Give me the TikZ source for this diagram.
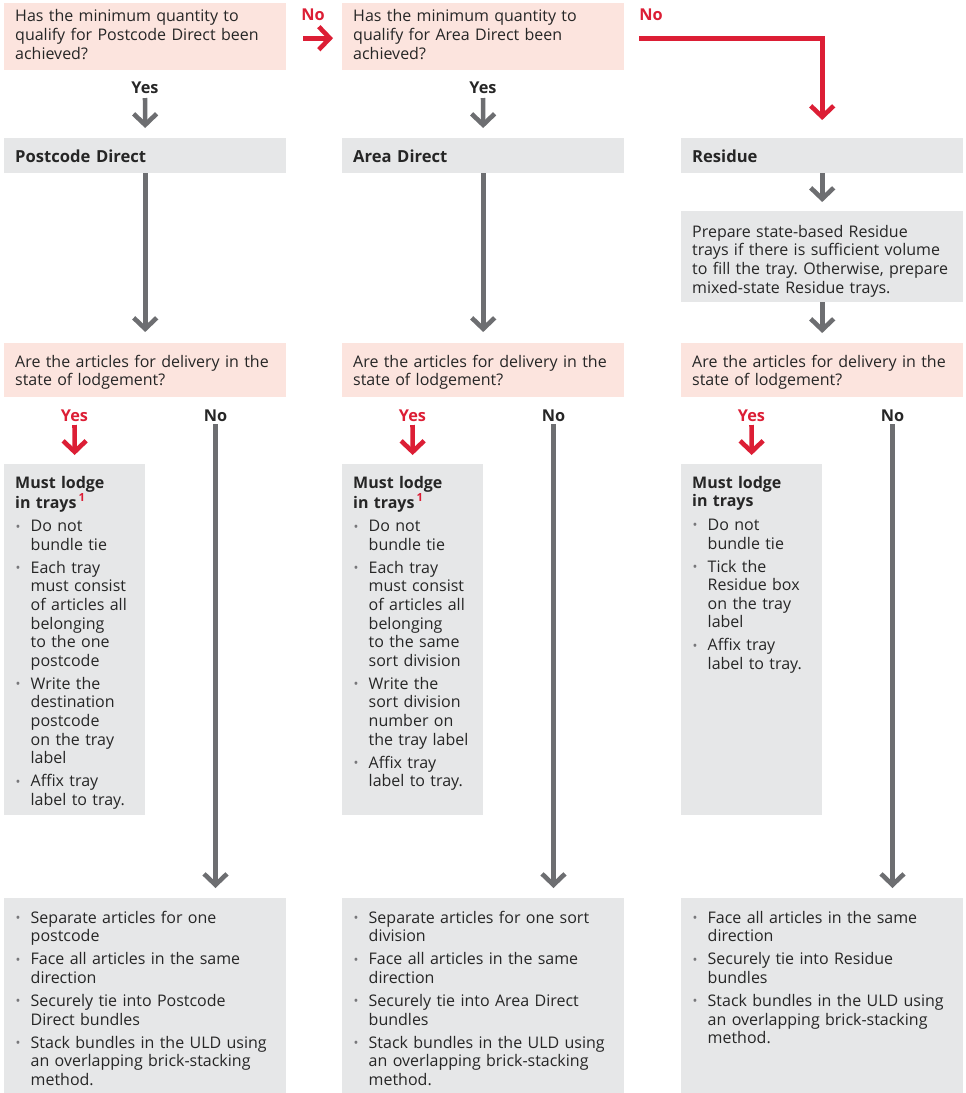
\documentclass[tikz,border=0pt]{standalone}
\usepackage{fontspec}
\setmainfont{Open Sans}
\usetikzlibrary{arrows.meta,calc}
\definecolor{pinkbg}{HTML}{FCE4DE}
\definecolor{graybg}{HTML}{E6E7E8}
\definecolor{arrgray}{HTML}{6D6E71}
\definecolor{apred}{HTML}{DC1E35}
\definecolor{txtc}{HTML}{262626}
\definecolor{dotgray}{HTML}{77777A}
\frenchspacing
\newcommand\bl{\makebox[15.5pt][l]{\hspace{0.5pt}\raisebox{0.5pt}{\textcolor{dotgray}{\fontsize{13}{13}\selectfont •}}}}
\newcommand\hd[1]{\multicolumn{2}{@{}l@{}}{\bfseries #1}}
\newcommand\fnmark{\textsuperscript{\hspace{2pt}\textcolor{apred}{1}}}
\begin{document}
\begin{tikzpicture}[x=1pt,y=-1pt,
  box/.style={anchor=north west, inner xsep=11pt, inner ysep=0pt, align=left,
    font=\fontsize{16}{18.6}\selectfont, text=txtc},
  pinkbox/.style={box, fill=pinkbg},
  graybox/.style={box, fill=graybg},
  wide/.style={text width=260pt},
  narrow/.style={text width=119pt},
  ttl/.style={font=\bfseries\fontsize{16.6}{18.6}\selectfont},
  lab/.style={inner sep=0pt, font=\bfseries\fontsize{16.3}{18.6}\selectfont, text=txtc},
  redlab/.style={lab, text=apred},
  garr/.style={draw=arrgray, line width=4.6pt, -{Straight Barb[length=11pt,width=23pt]}},
  rarr/.style={draw=apred, line width=4.6pt, -{Straight Barb[length=11pt,width=23pt]}}
]
\useasboundingbox (0,0) rectangle (966,1093);

% ---------- top questions ----------
\node[pinkbox, wide, text height=18.7pt, text depth=48.3pt] (qa1) at (4,3)
  {\begin{tabular}[t]{@{}l@{}}Has the minimum quantity to\\ qualify for Postcode Direct been\\ achieved?\end{tabular}};
\node[pinkbox, wide, text height=18.7pt, text depth=48.3pt] (qa2) at (342,3)
  {\begin{tabular}[t]{@{}l@{}}Has the minimum quantity to\\ qualify for Area Direct been\\ achieved?\end{tabular}};

% ---------- titles ----------
\node[graybox, ttl, wide, text height=23.8pt, text depth=11.2pt] (ta1) at (4,138) {Postcode Direct};
\node[graybox, ttl, wide, text height=23.8pt, text depth=11.2pt] (ta2) at (342,138) {Area Direct};
\node[graybox, ttl, wide, text height=23.8pt, text depth=11.2pt] (ta3) at (681,138) {Residue};

\node[graybox, wide, text height=26pt, text depth=65pt] (prep) at (681,211)
  {\begin{tabular}[t]{@{}l@{}}Prepare state-based Residue\\ trays if there is sufficient volume\\ to fill the tray. Otherwise, prepare\\ mixed-state Residue trays.\end{tabular}};

% ---------- second questions ----------
\node[pinkbox, wide, text height=24pt, text depth=30pt] (qb1) at (4,343)
  {\begin{tabular}[t]{@{}l@{}}Are the articles for delivery in the\\ state of lodgement?\end{tabular}};
\node[pinkbox, wide, text height=24pt, text depth=30pt] (qb2) at (342,343)
  {\begin{tabular}[t]{@{}l@{}}Are the articles for delivery in the\\ state of lodgement?\end{tabular}};
\node[pinkbox, wide, text height=24pt, text depth=30pt] (qb3) at (681,343)
  {\begin{tabular}[t]{@{}l@{}}Are the articles for delivery in the\\ state of lodgement?\end{tabular}};

% ---------- tray boxes ----------
\node[graybox, narrow, text height=24pt, text depth=327pt] (tr1) at (4,464)
  {\begin{tabular}[t]{@{}l@{}l@{}}
  \hd{Must lodge}\\ \hd{in trays\fnmark}\\[5pt]
  \bl & Do not\\ & bundle tie\\[4.4pt]
  \bl & Each tray\\ & must consist\\ & of articles all\\ & belonging\\ & to the one\\ & postcode\\[4.4pt]
  \bl & Write the\\ & destination\\ & postcode\\ & on the tray\\ & label\\[4.4pt]
  \bl & Affix tray\\ & label to tray.
  \end{tabular}};
\node[graybox, narrow, text height=24pt, text depth=327pt] (tr2) at (342,464)
  {\begin{tabular}[t]{@{}l@{}l@{}}
  \hd{Must lodge}\\ \hd{in trays\fnmark}\\[5pt]
  \bl & Do not\\ & bundle tie\\[4.4pt]
  \bl & Each tray\\ & must consist\\ & of articles all\\ & belonging\\ & to the same\\ & sort division\\[4.4pt]
  \bl & Write the\\ & sort division\\ & number on\\ & the tray label\\[4.4pt]
  \bl & Affix tray\\ & label to tray.
  \end{tabular}};
\node[graybox, narrow, text height=24pt, text depth=327pt] (tr3) at (681,464)
  {\begin{tabular}[t]{@{}l@{}l@{}}
  \hd{Must lodge}\\ \hd{in trays}\\[5pt]
  \bl & Do not\\ & bundle tie\\[4.4pt]
  \bl & Tick the\\ & Residue box\\ & on the tray\\ & label\\[4.4pt]
  \bl & Affix tray\\ & label to tray.
  \end{tabular}};

% ---------- bottom boxes ----------
\node[graybox, wide, text height=25pt, text depth=170pt] (bt1) at (4,898)
  {\begin{tabular}[t]{@{}l@{}l@{}}
  \bl & Separate articles for one\\ & postcode\\[4.4pt]
  \bl & Face all articles in the same\\ & direction\\[4.4pt]
  \bl & Securely tie into Postcode\\ & Direct bundles\\[4.4pt]
  \bl & Stack bundles in the ULD using\\ & an overlapping brick-stacking\\ & method.
  \end{tabular}};
\node[graybox, wide, text height=25pt, text depth=170pt] (bt2) at (342,898)
  {\begin{tabular}[t]{@{}l@{}l@{}}
  \bl & Separate articles for one sort\\ & division\\[4.4pt]
  \bl & Face all articles in the same\\ & direction\\[4.4pt]
  \bl & Securely tie into Area Direct\\ & bundles\\[4.4pt]
  \bl & Stack bundles in the ULD using\\ & an overlapping brick-stacking\\ & method.
  \end{tabular}};
\node[graybox, wide, text height=25pt, text depth=170pt] (bt3) at (681,898)
  {\begin{tabular}[t]{@{}l@{}l@{}}
  \bl & Face all articles in the same\\ & direction\\[4.4pt]
  \bl & Securely tie into Residue\\ & bundles\\[4.4pt]
  \bl & Stack bundles in the ULD using\\ & an overlapping brick-stacking\\ & method.
  \end{tabular}};

% ---------- labels ----------
\node[redlab] (noA) at (313,15) {No};
\node[redlab] (noB) at (651,15) {No};
\node[lab] (yes1a) at (145,88) {Yes};
\node[lab] (yes1b) at (483,88) {Yes};
\node[redlab] (yes2a) at (74.5,416) {Yes};
\node[redlab] (yes2b) at (412.5,416) {Yes};
\node[redlab] (yes2c) at (751.5,416) {Yes};
\node[lab] (no2a) at (215.5,416) {No};
\node[lab] (no2b) at (553.5,416) {No};
\node[lab] (no2c) at (892.5,416) {No};

% ---------- connectors ----------
\draw[rarr, shorten <=17pt, shorten >=9pt] ([yshift=-1.5pt]qa1.east) -- ([yshift=-1.5pt]qa2.west);
\draw[rarr, shorten >=18pt] ([xshift=15pt,yshift=-1.5pt]qa2.east) -| (ta3.north);

\draw[garr, shorten <=10pt, shorten >=10pt] (yes1a.center) -- (ta1.north);
\draw[garr, shorten <=10pt, shorten >=10pt] (yes1b.center) -- (ta2.north);

\draw[garr, shorten >=11pt] (ta1.south) -- (qb1.north);
\draw[garr, shorten >=11pt] (ta2.south) -- (qb2.north);
\draw[garr, shorten >=9pt] (ta3.south) -- (prep.north);
\draw[garr, shorten >=10pt] (prep.south) -- (qb3.north);

\draw[rarr, shorten <=9pt, shorten >=9pt] (yes2a.center) -- (tr1.north);
\draw[rarr, shorten <=9pt, shorten >=9pt] (yes2b.center) -- (tr2.north);
\draw[rarr, shorten <=9pt, shorten >=9pt] (yes2c.center) -- (tr3.north);

\draw[garr, shorten <=8pt, shorten >=10pt] (no2a.center) -- (no2a.center |- bt1.north);
\draw[garr, shorten <=8pt, shorten >=10pt] (no2b.center) -- (no2b.center |- bt2.north);
\draw[garr, shorten <=8pt, shorten >=10pt] (no2c.center) -- (no2c.center |- bt3.north);
\end{tikzpicture}
\end{document}
